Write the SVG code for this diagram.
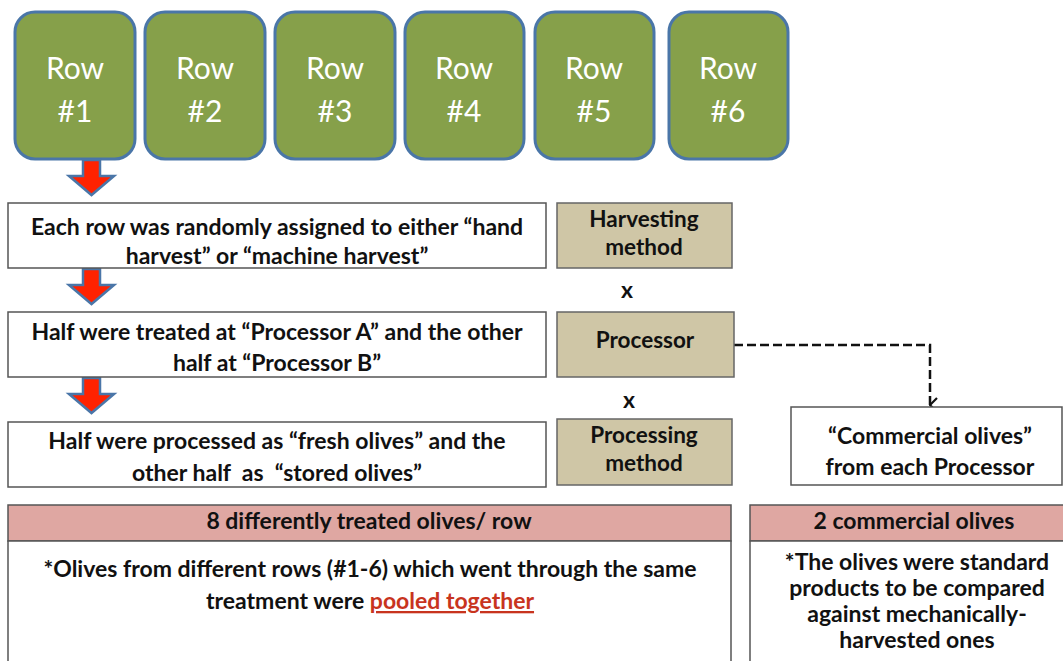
<svg xmlns="http://www.w3.org/2000/svg" width="1063" height="661" viewBox="0 0 1063 661">
<defs>
<style>
.row rect{fill:#86A04A;stroke:#4A76A8;stroke-width:3}
.row text{fill:#fff;font-family:Lato,"Open Sans",sans-serif;font-size:30px;text-anchor:middle}
.step rect{fill:#fff;stroke:#555;stroke-width:1.5}
.t{font-family:Lato,"Open Sans",sans-serif;font-weight:bold;font-size:23px;fill:#111;text-anchor:middle}
.tan rect{fill:#CFC6A6;stroke:#666;stroke-width:1.5}
.tan text{font-size:22.5px}
.hdr{fill:#DFA7A2;stroke:#555;stroke-width:1.5}
.body{fill:#fff;stroke:#555;stroke-width:1.5}
.arr{fill:#FF2200;stroke:#4A76A8;stroke-width:2.5;stroke-linejoin:miter}
</style>
<marker id="open" viewBox="0 0 16 14" refX="8" refY="13" markerWidth="16" markerHeight="14" markerUnits="userSpaceOnUse" orient="auto-start-reverse">
<path d="M1,6 L8,13 L15,6" fill="none" stroke="#111" stroke-width="2.2"/>
</marker>
</defs>
<rect width="1063" height="661" fill="#fff"/>

<g id="row1" class="row"><rect x="15" y="12" width="120" height="147" rx="20"/><text x="75" y="79">Row</text><text x="75" y="122">#1</text></g>
<g id="row2" class="row"><rect x="145" y="12" width="120" height="147" rx="20"/><text x="205" y="79">Row</text><text x="205" y="122">#2</text></g>
<g id="row3" class="row"><rect x="275" y="12" width="120" height="147" rx="20"/><text x="335" y="79">Row</text><text x="335" y="122">#3</text></g>
<g id="row4" class="row"><rect x="405" y="12" width="119" height="147" rx="20"/><text x="464" y="79">Row</text><text x="464" y="122">#4</text></g>
<g id="row5" class="row"><rect x="535" y="12" width="119" height="147" rx="20"/><text x="594" y="79">Row</text><text x="594" y="122">#5</text></g>
<g id="row6" class="row"><rect x="669" y="12" width="119" height="147" rx="20"/><text x="728" y="79">Row</text><text x="728" y="122">#6</text></g>

<g id="connectors">
<path class="arr" d="M83,160 L100,160 L100,176 L114,176 L91.5,195 L69,176 L83,176 Z"/>
<path class="arr" d="M83,269 L100,269 L100,285 L114,285 L91.5,304 L69,285 L83,285 Z"/>
<path class="arr" d="M83,378 L100,378 L100,394 L114,394 L91.5,413 L69,394 L83,394 Z"/>
<path d="M734,345 L930,345 L930,405" fill="none" stroke="#111" stroke-width="2.5" stroke-dasharray="9,4" marker-end="url(#open)"/>
</g>

<g id="step1" class="step"><rect x="8" y="203" width="538" height="65"/>
<text class="t" x="277" y="235">Each row was randomly assigned to either “hand</text>
<text class="t" x="277" y="264">harvest” or “machine harvest”</text></g>
<g id="step2" class="step"><rect x="8" y="312" width="538" height="65"/>
<text class="t" x="277" y="340">Half were treated at “Processor A” and the other</text>
<text class="t" x="277" y="371">half at “Processor B”</text></g>
<g id="step3" class="step"><rect x="8" y="422" width="538" height="65"/>
<text class="t" x="277" y="449">Half were processed as “fresh olives” and the</text>
<text class="t" x="277" y="481" xml:space="preserve">other half  as  “stored olives”</text></g>

<g id="harvesting" class="tan"><rect x="557" y="203" width="175" height="65"/>
<text class="t" x="644" y="227">Harvesting</text>
<text class="t" x="644" y="255">method</text></g>
<g id="processor" class="tan"><rect x="557" y="312" width="177" height="65"/>
<text class="t" x="645" y="348" font-size="24">Processor</text></g>
<g id="processing" class="tan"><rect x="557" y="419" width="175" height="66"/>
<text class="t" x="644" y="443">Processing</text>
<text class="t" x="644" y="471">method</text></g>

<g id="x1"><text class="t" x="627" y="298" font-size="20">x</text></g>
<g id="x2"><text class="t" x="629" y="408" font-size="20">x</text></g>

<g id="commercial" class="step"><rect x="791" y="407" width="271" height="78"/>
<text class="t" x="930" y="444" font-size="23.5">“Commercial olives”</text>
<text class="t" x="930" y="475" font-size="23.5">from each Processor</text></g>

<g id="summary-left">
<rect class="hdr" x="8" y="505" width="723" height="36"/>
<text class="t" x="369" y="529" font-size="18.5">8 differently treated olives/ row</text>
<rect class="body" x="8" y="541" width="723" height="125"/>
<text class="t" x="370" y="577">*Olives from different rows (#1-6) which went through the same</text>
<text class="t" x="370" y="609">treatment were <tspan fill="#C8341E" text-decoration="underline">pooled together</tspan></text>
</g>

<g id="summary-right">
<rect class="hdr" x="750" y="505" width="318" height="36"/>
<text class="t" x="914" y="529" font-size="18.5">2 commercial olives</text>
<rect class="body" x="750" y="541" width="318" height="125"/>
<text class="t" x="917" y="570" font-size="22.5">*The olives were standard</text>
<text class="t" x="917" y="596" font-size="22.5">products to be compared</text>
<text class="t" x="917" y="622" font-size="22.5">against mechanically-</text>
<text class="t" x="917" y="648" font-size="22.5">harvested ones</text>
</g>
</svg>
